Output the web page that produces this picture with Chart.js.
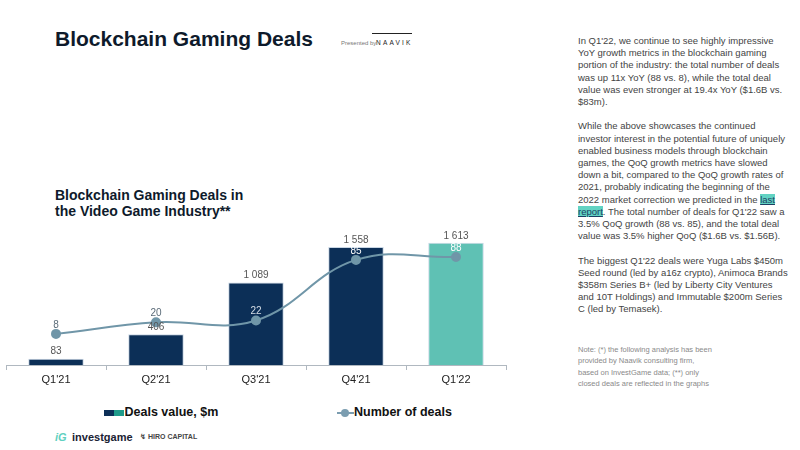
<!DOCTYPE html>
<html lang="en">
<head>
  <meta charset="UTF-8" />
  <title>Blockchain Gaming Deals</title>
  <script src="https://cdn.jsdelivr.net/npm/chart.js"></script>
  <style>
    body {
      margin: 0;
      width: 800px;
      height: 450px;
      background: #fff;
      font-family: 'Liberation Sans', Arial, sans-serif;
      position: relative;
      overflow: hidden;
    }

    .abs { position: absolute; white-space: nowrap; }

    h1 {
      position: absolute;
      left: 55px;
      top: 27px;
      margin: 0;
      font-size: 21px;
      color: #0e1a2b;
      letter-spacing: 0;
    }

    .subtitle {
      left: 55px;
      top: 187px;
      font-size: 14px;
      font-weight: bold;
      line-height: 16px;
      color: #0e1a2b;
    }

    .story {
      left: 578px;
      top: 35px;
      font-size: 9.5px;
      line-height: 12.2px;
      color: #444;
    }

    .story .hl {
      background: #62d3c3;
      color: #1c3f63;
      text-decoration: underline;
    }

    .note {
      left: 578px;
      top: 344px;
      font-size: 7.5px;
      line-height: 11.4px;
      color: #8a8a8a;
    }

    #chartBox {
      position: absolute;
      left: 0;
      top: 220px;
      width: 512px;
      height: 175px;
    }

    .legend {
      top: 405px;
      font-size: 12.5px;
      font-weight: bold;
      color: #111;
    }
  </style>
</head>
<body>
  <h1>Blockchain Gaming Deals</h1>

  <div class="abs" style="left:341px; top:40px; font-size:6px; color:#777;">Presented by</div>
  <div class="abs" style="left:376px; top:39px; font-size:6.5px; letter-spacing:2.2px; color:#222;">NAAVIK</div>
  <div class="abs" style="left:372px; top:33px; width:40px; border-top:1px solid #222;"></div>

  <div class="abs subtitle">Blockchain Gaming Deals in<br>the Video Game Industry**</div>

  <div id="chartBox"><canvas id="dealsChart"></canvas></div>

  <div class="abs legend" style="left:104px;">
    <span style="display:inline-block; width:10px; height:6px; background:#0c2f57; vertical-align:middle;"></span><span style="display:inline-block; width:10px; height:6px; background:#1f9a8a; vertical-align:middle;"></span>
    <span style="margin-left:-3px;">Deals value, $m</span>
  </div>
  <div class="abs legend" style="left:337px;">
    <span style="display:inline-block; position:relative; width:17px; height:8px; vertical-align:middle;">
      <span style="position:absolute; left:0; top:3px; width:17px; height:2px; background:#7b9db0;"></span>
      <span style="position:absolute; left:4px; top:0; width:8px; height:8px; border-radius:50%; background:#7b9db0;"></span>
    </span><span>Number of deals</span>
  </div>

  <div class="abs" style="left:55px; top:431px; font-size:11px; font-weight:bold; font-style:italic; color:#5fd0c0;">iG</div>
  <div class="abs" style="left:72px; top:431px; font-size:11px; font-weight:bold; color:#1a2233;">investgame</div>
  <div class="abs" style="left:140px; top:433px; font-size:7px; font-weight:bold; color:#444;">&#8623; HIRO CAPITAL</div>

  <div class="abs story">
    In Q1'22, we continue to see highly impressive<br>
    YoY growth metrics in the blockchain gaming<br>
    portion of the industry: the total number of deals<br>
    was up 11x YoY (88 vs. 8), while the total deal<br>
    value was even stronger at 19.4x YoY ($1.6B vs.<br>
    $83m).<br>
    <br>
    While the above showcases the continued<br>
    investor interest in the potential future of uniquely<br>
    enabled business models through blockchain<br>
    games, the QoQ growth metrics have slowed<br>
    down a bit, compared to the QoQ growth rates of<br>
    2021, probably indicating the beginning of the<br>
    2022 market correction we predicted in the <span class="hl">last</span><br>
    <span class="hl">report</span>. The total number of deals for Q1'22 saw a<br>
    3.5% QoQ growth (88 vs. 85), and the total deal<br>
    value was 3.5% higher QoQ ($1.6B vs. $1.56B).<br>
    <br>
    The biggest Q1'22 deals were Yuga Labs $450m<br>
    Seed round (led by a16z crypto), Animoca Brands<br>
    $358m Series B+ (led by Liberty City Ventures<br>
    and 10T Holdings) and Immutable $200m Series<br>
    C (led by Temasek).
  </div>

  <div class="abs note">
    Note: (*) the following analysis has been<br>
    provided by Naavik consulting firm,<br>
    based on InvestGame data; (**) only<br>
    closed deals are reflected in the graphs
  </div>

  <script>
    const quarters = ["Q1'21", "Q2'21", "Q3'21", "Q4'21", "Q1'22"];
    const dealValues = [83, 406, 1089, 1558, 1613];
    const dealCounts = [8, 20, 22, 85, 88];

    const navy = "#0c2f57";
    const teal = "#5fc1b4";
    const lineColor = "#7096a8";

    // labels over bars and points
    const valueLabels = {
      id: "valueLabels",
      afterDatasetsDraw(chart) {
        const ctx = chart.ctx;
        ctx.save();
        ctx.font = "10px 'Liberation Sans', Arial, sans-serif";
        ctx.textAlign = "center";
        ctx.textBaseline = "middle";

        chart.getDatasetMeta(1).data.forEach((bar, i) => {
          ctx.fillStyle = "#555";
          const txt = dealValues[i].toLocaleString("en-US").replace(",", " ");
          ctx.fillText(txt, bar.x, bar.y - 7);
        });

        const countColors = ["#5a6b78", "#5a6b78", "#d5dde6", "#ffffff", "#ffffff"];
        chart.getDatasetMeta(0).data.forEach((pt, i) => {
          ctx.fillStyle = countColors[i];
          ctx.fillText(String(dealCounts[i]), pt.x, pt.y - 9);
        });
        ctx.restore();
      }
    };

    new Chart(document.getElementById("dealsChart"), {
      data: {
        labels: quarters,
        datasets: [
          {
            type: "line",
            label: "Number of deals",
            data: dealCounts,
            yAxisID: "y1",
            borderColor: lineColor,
            backgroundColor: lineColor,
            borderWidth: 2,
            tension: 0.4,
            pointRadius: 4,
            pointBackgroundColor: lineColor,
            order: 0
          },
          {
            type: "bar",
            label: "Deals value, $m",
            data: dealValues,
            yAxisID: "y",
            backgroundColor: [navy, navy, navy, navy, teal],
            borderColor: "#c8d6e4",
            borderWidth: 1,
            categoryPercentage: 1,
            barPercentage: 0.555,
            order: 1
          }
        ]
      },
      options: {
        responsive: true,
        maintainAspectRatio: false,
        animation: false,
        layout: { padding: { left: 3.5, right: 5, top: 5, bottom: 0 } },
        plugins: {
          legend: { display: false },
          tooltip: { enabled: false }
        },
        scales: {
          x: {
            offset: true,
            grid: {
              offset: true,
              drawOnChartArea: false,
              drawTicks: true,
              tickLength: 5,
              color: "#b0b8c0"
            },
            border: { display: true, color: "#b0b8c0" },
            ticks: {
              color: "#222",
              padding: 3,
              font: { size: 11, family: "'Liberation Sans', Arial, sans-serif" }
            },
            afterFit: (scale) => { scale.height = 30; }
          },
          y: {
            display: false,
            min: 0,
            max: 1835
          },
          y1: {
            display: false,
            min: -24.4,
            max: 120.3
          }
        }
      },
      plugins: [valueLabels]
    });
  </script>
</body>
</html>
